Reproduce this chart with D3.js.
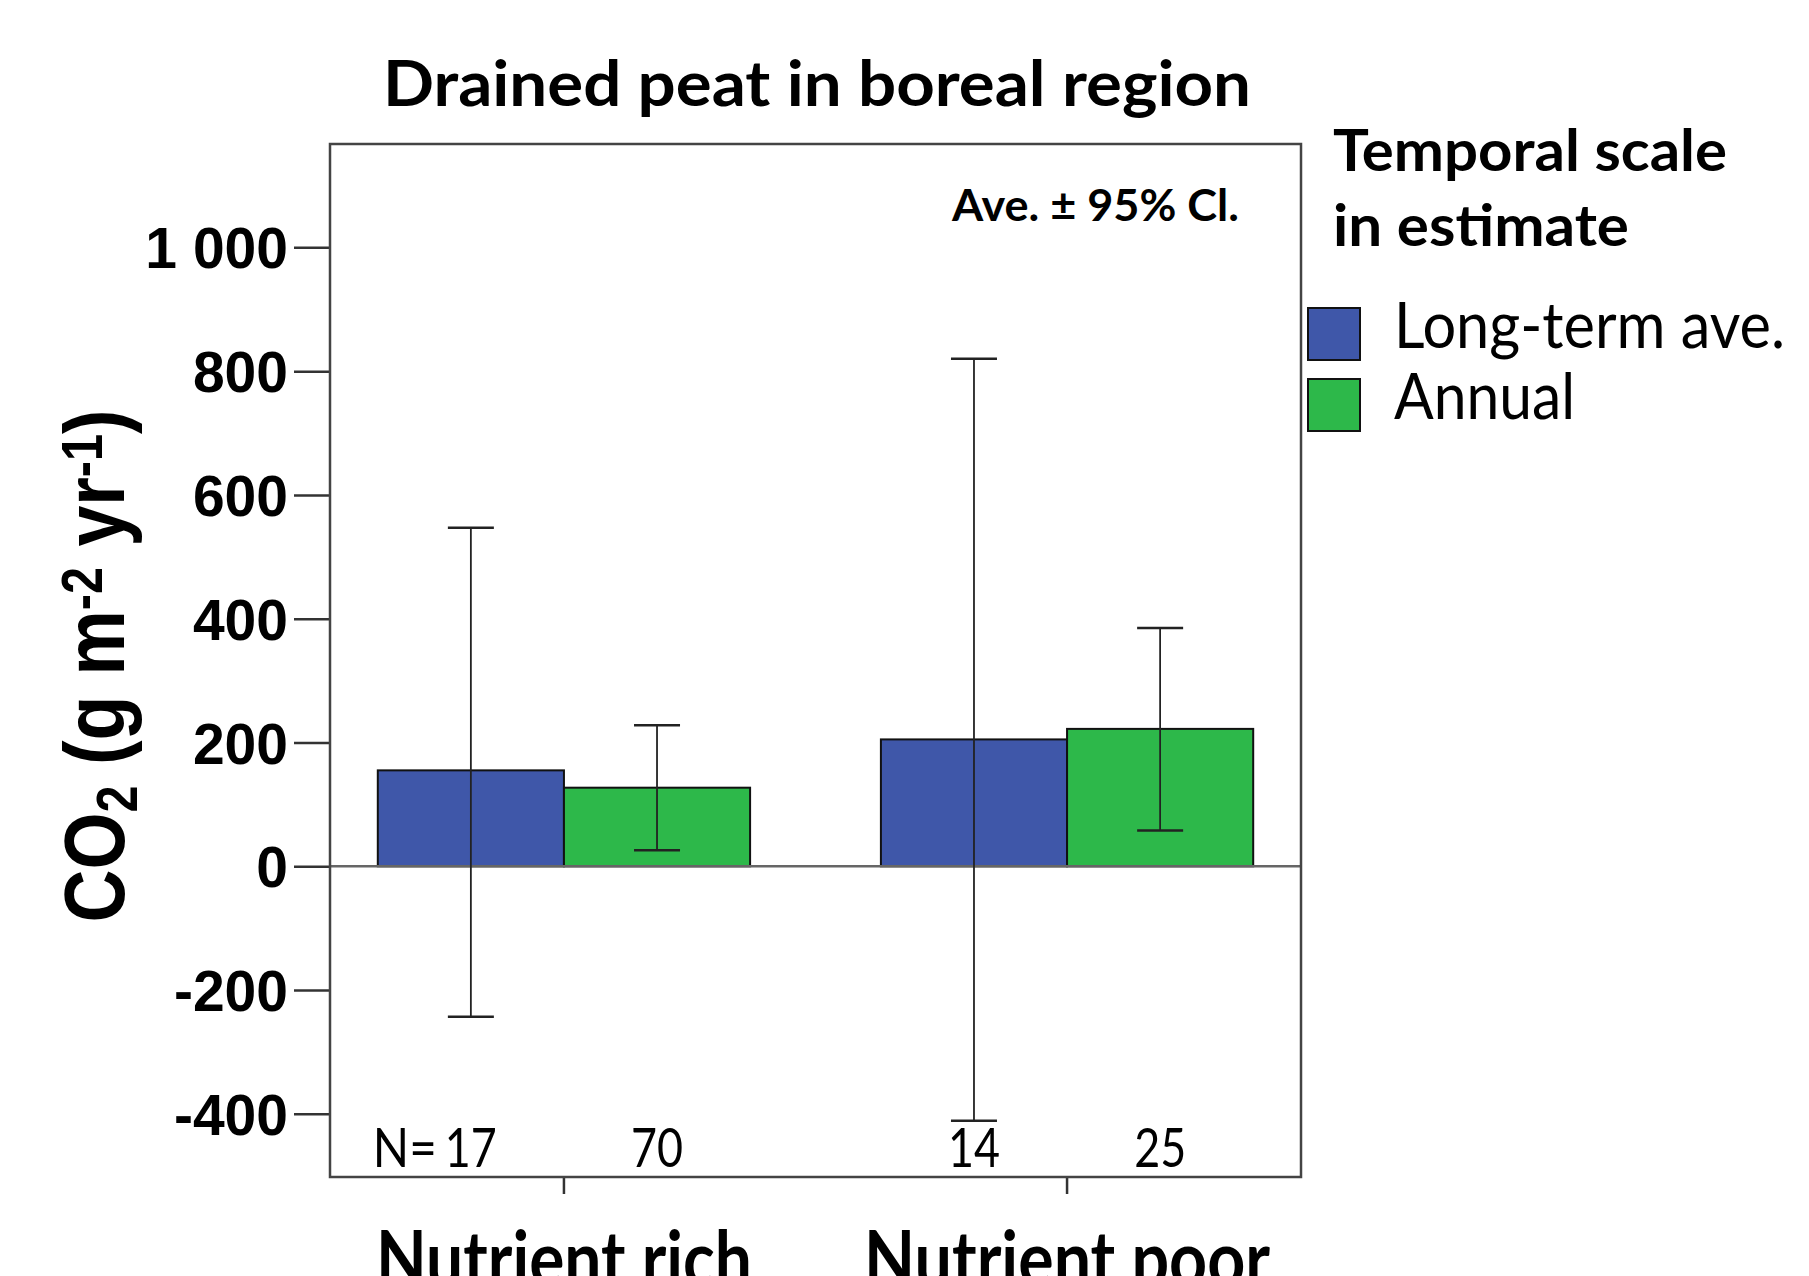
<!DOCTYPE html>
<html>
<head>
<meta charset="utf-8">
<script src="https://cdn.jsdelivr.net/npm/d3@7"></script>
<style>
  body { margin: 0; background: #fff; }
  svg { display: block; }
</style>
</head>
<body>
<div id="chart"></div>
<script>
// data
const categories = ["Nutrient rich", "Nutrient poor"];
const series = ["Long-term ave.", "Annual"];
const seriesColors = ["#3f57a9", "#2db84a"];

const longTermMean = [155, 205];
const longTermLower = [-243, -411];
const longTermUpper = [547, 820];
const longTermN = [17, 14];

const annualMean = [127, 222];
const annualLower = [26, 58];
const annualUpper = [228, 385];
const annualN = [70, 25];

const yTicks = [-400, -200, 0, 200, 400, 600, 800, 1000];

const width = 1809, height = 1276;
const plot = { left: 330, right: 1301, top: 144, bottom: 1177 };

// flat rows for drawing
const rows = [];
categories.forEach((c, i) => {
    rows.push({ cat: c, s: series[0], mean: longTermMean[i], lo: longTermLower[i], hi: longTermUpper[i], n: longTermN[i] });
    rows.push({ cat: c, s: series[1], mean: annualMean[i], lo: annualLower[i], hi: annualUpper[i], n: annualN[i] });
});

const svg = d3.select("#chart").append("svg")
    .attr("width", width)
    .attr("height", height);

const x0 = d3.scaleBand()
    .domain(categories)
    .range([plot.left, plot.right])
    .paddingInner(0.26)
    .paddingOuter(0.095);

const x1 = d3.scaleBand()
    .domain(series)
    .range([0, x0.bandwidth()]);

const color = d3.scaleOrdinal().domain(series).range(seriesColors);

const y = d3.scaleLinear()
    .domain([-502, 1167])
    .range([plot.bottom, plot.top]);

const fmt = d3.formatLocale({ decimal: ".", thousands: " ", grouping: [3], currency: ["", ""], minus: "-" }).format(",");

// y axis
const yAxis = svg.append("g")
    .attr("transform", `translate(${plot.left},0)`)
    .call(d3.axisLeft(y).tickValues(yTicks).tickFormat(fmt).tickSize(36).tickPadding(6));
yAxis.select(".domain").remove();
yAxis.selectAll(".tick line").attr("stroke", "#333").attr("stroke-width", 2.5);
yAxis.selectAll(".tick text")
    .attr("fill", "#000")
    .style("font-family", "'Liberation Sans', Arial, sans-serif")
    .style("font-weight", "bold")
    .style("font-size", "57px")
    .attr("dy", "0.36em");

// x axis ticks at category centres
const xAxis = svg.append("g")
    .attr("transform", `translate(0,${plot.bottom})`)
    .call(d3.axisBottom(x0).tickSize(17).tickFormat(""));
xAxis.select(".domain").remove();
xAxis.selectAll(".tick line").attr("stroke", "#333").attr("stroke-width", 2.5);

// category labels (run off the bottom edge like the original)
const catWidths = [376, 406];
svg.selectAll(".cat-label")
    .data(categories)
    .enter().append("text")
    .attr("class", "cat-label")
    .attr("x", d => x0(d) + x0.bandwidth() / 2)
    .attr("y", 1286)
    .attr("text-anchor", "middle")
    .attr("textLength", (d, i) => catWidths[i])
    .attr("lengthAdjust", "spacingAndGlyphs")
    .style("font-family", "Lato, 'Open Sans', sans-serif")
    .style("font-weight", "bold")
    .style("font-size", "76px")
    .text(d => d);

// bars
svg.append("g").selectAll("rect")
    .data(rows)
    .enter().append("rect")
    .attr("x", d => x0(d.cat) + x1(d.s))
    .attr("width", x1.bandwidth())
    .attr("y", d => y(Math.max(0, d.mean)))
    .attr("height", d => Math.abs(y(d.mean) - y(0)))
    .attr("fill", d => color(d.s))
    .attr("stroke", "#111")
    .attr("stroke-width", 2);

// zero line
svg.append("line")
    .attr("x1", plot.left).attr("x2", plot.right)
    .attr("y1", y(0)).attr("y2", y(0))
    .attr("stroke", "#666")
    .attr("stroke-width", 2.5);

// error bars
const cx = d => x0(d.cat) + x1(d.s) + x1.bandwidth() / 2;
const capW = 23;
const err = svg.append("g").attr("stroke", "#222").attr("stroke-width", 1.8);
rows.forEach(d => {
    err.append("line").attr("x1", cx(d)).attr("x2", cx(d)).attr("y1", y(d.lo)).attr("y2", y(d.hi));
    err.append("line").attr("x1", cx(d) - capW).attr("x2", cx(d) + capW).attr("y1", y(d.hi)).attr("y2", y(d.hi)).attr("stroke-width", 2.5);
    err.append("line").attr("x1", cx(d) - capW).attr("x2", cx(d) + capW).attr("y1", y(d.lo)).attr("y2", y(d.lo)).attr("stroke-width", 2.5);
});

// plot frame
svg.append("rect")
    .attr("x", plot.left).attr("y", plot.top)
    .attr("width", plot.right - plot.left)
    .attr("height", plot.bottom - plot.top)
    .attr("fill", "none")
    .attr("stroke", "#444")
    .attr("stroke-width", 2.5);

// sample sizes
const nFont = "Lato, 'Open Sans', sans-serif";
svg.selectAll(".n-label")
    .data(rows)
    .enter().append("text")
    .attr("class", "n-label")
    .attr("x", cx)
    .attr("y", 1167)
    .attr("text-anchor", "middle")
    .attr("textLength", 52)
    .attr("lengthAdjust", "spacingAndGlyphs")
    .style("font-family", nFont)
    .style("font-size", "54px")
    .text(d => d.n);
svg.append("text")
    .attr("x", cx(rows[0]) - 34)
    .attr("y", 1167)
    .attr("text-anchor", "end")
    .attr("textLength", 64)
    .attr("lengthAdjust", "spacingAndGlyphs")
    .style("font-family", nFont)
    .style("font-size", "54px")
    .text("N=");

// title
svg.append("text")
    .attr("x", 817)
    .attr("y", 106)
    .attr("text-anchor", "middle")
    .attr("textLength", 868)
    .attr("lengthAdjust", "spacingAndGlyphs")
    .style("font-family", "Lato, 'Open Sans', sans-serif")
    .style("font-weight", "bold")
    .style("font-size", "63px")
    .text("Drained peat in boreal region");

// note in the plot
svg.append("text")
    .attr("x", 1239)
    .attr("y", 221)
    .attr("text-anchor", "end")
    .attr("textLength", 287)
    .attr("lengthAdjust", "spacingAndGlyphs")
    .style("font-family", "Lato, 'Open Sans', sans-serif")
    .style("font-weight", "bold")
    .style("font-size", "44px")
    .text("Ave. \u00b1 95% Cl.");

// y axis title
const yTitle = svg.append("text")
    .attr("transform", "translate(124,666) rotate(-90)")
    .attr("text-anchor", "middle")
    .attr("textLength", 513)
    .attr("lengthAdjust", "spacingAndGlyphs")
    .style("font-family", "'Liberation Sans', Arial, sans-serif")
    .style("font-weight", "bold")
    .style("font-size", "86px");
yTitle.append("tspan").text("CO");
yTitle.append("tspan").attr("baseline-shift", "-22%").style("font-size", "57px").text("2");
yTitle.append("tspan").text(" (g m");
yTitle.append("tspan").attr("baseline-shift", "38%").style("font-size", "57px").text("-2");
yTitle.append("tspan").text(" yr");
yTitle.append("tspan").attr("baseline-shift", "38%").style("font-size", "57px").text("-1");
yTitle.append("tspan").text(")");

// legend
const legend = svg.append("g");
const legTitle = ["Temporal scale", "in estimate"];
const legTitleW = [394, 296];
legend.selectAll(".leg-title")
    .data(legTitle)
    .enter().append("text")
    .attr("x", 1333)
    .attr("y", (d, i) => 171 + i * 75)
    .attr("textLength", (d, i) => legTitleW[i])
    .attr("lengthAdjust", "spacingAndGlyphs")
    .style("font-family", "Lato, 'Open Sans', sans-serif")
    .style("font-weight", "bold")
    .style("font-size", "57px")
    .text(d => d);

const legItemW = [391, 181];
const item = legend.selectAll(".leg-item")
    .data(series)
    .enter().append("g")
    .attr("transform", (d, i) => `translate(1308,${308 + i * 71})`);
item.append("rect")
    .attr("width", 52).attr("height", 52)
    .attr("fill", d => color(d))
    .attr("stroke", "#111")
    .attr("stroke-width", 2);
item.append("text")
    .attr("x", 86)
    .attr("y", 40)
    .attr("textLength", (d, i) => legItemW[i])
    .attr("lengthAdjust", "spacingAndGlyphs")
    .style("font-family", "Lato, 'Open Sans', sans-serif")
    .style("font-size", "63px")
    .text(d => d);
</script>
</body>
</html>
